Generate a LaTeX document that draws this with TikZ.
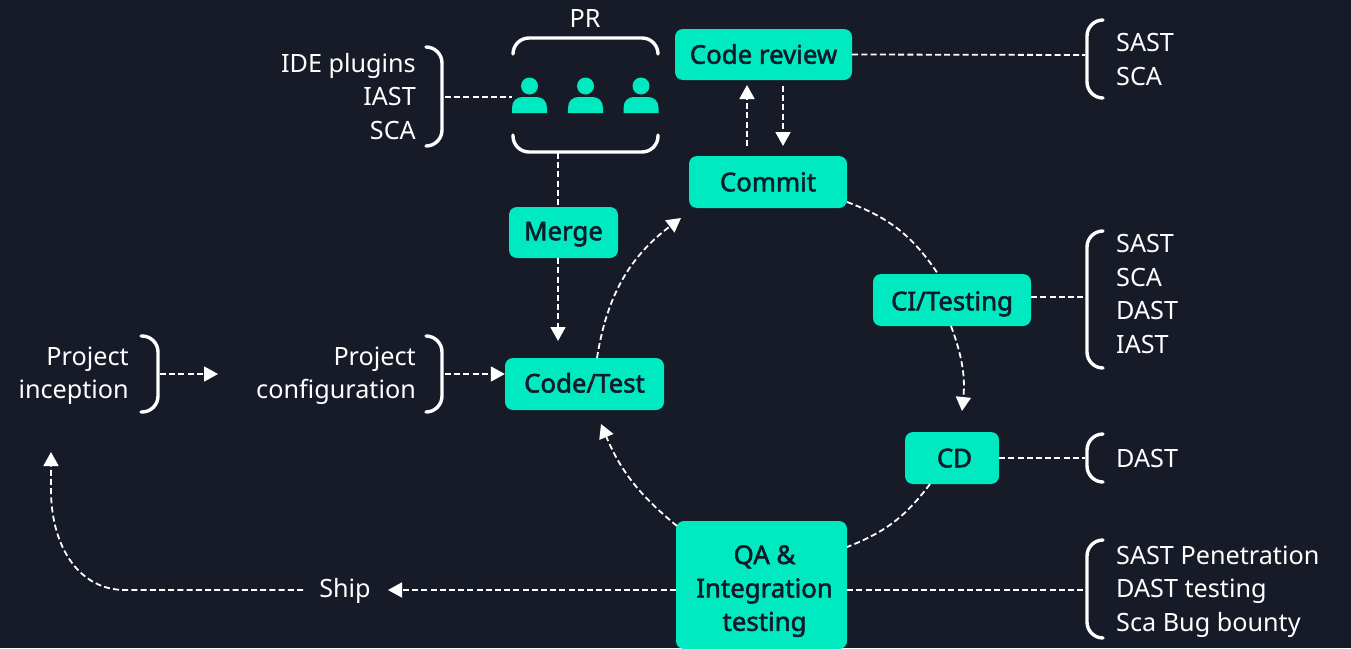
\documentclass[tikz,border=0pt]{standalone}
\usepackage{fontspec}
\setmainfont{Noto Sans}
\newfontfamily\boxfont[FakeBold=2]{Noto Sans}
\usetikzlibrary{arrows.meta,calc}
\definecolor{bgc}{HTML}{161B27}
\definecolor{teal}{HTML}{00EAC2}
\definecolor{ink}{HTML}{0E1B2A}
\tikzset{
  box/.style={fill=teal,rounded corners=8pt,inner sep=0pt,align=center,text=ink,
    font=\boxfont\fontsize{25.8}{33.4}\selectfont},
  oneline/.style={text height=18.5pt,text depth=0pt},
  lab/.style={text=white,inner sep=0pt,font=\fontsize{25.2}{33.4}\selectfont},
  labl/.style={lab,anchor=west,align=left},
  labr/.style={lab,anchor=east,align=right},
  brk/.style={draw=white,line width=3.4pt,line cap=round,rounded corners=16pt},
  dline/.style={draw=white,line width=1.8pt,dash pattern=on 6pt off 3.2pt},
  darrow/.style={dline,-{Triangle[length=14pt,width=15pt,fill=white]}},
}
\begin{document}
\begin{tikzpicture}[x=1pt,y=-1pt]
\useasboundingbox[fill=bgc] (0,0) rectangle (1351,648);
% boxes
\node[box,oneline,minimum width=177pt,minimum height=51pt] (review) at (763.5,54.5) {Code review};
\node[box,oneline,minimum width=158pt,minimum height=52pt] (commit) at (768,182) {Commit};
\node[box,oneline,text height=15.5pt,minimum width=109pt,minimum height=51pt] (merge) at (563.5,232.5) {Merge};
\node[box,oneline,text height=17pt,minimum width=159pt,minimum height=52pt] (code) at (584.5,384) {Code/Test};
\node[box,oneline,text height=20.5pt,minimum width=158pt,minimum height=52pt] (ci) at (952,300) {CI/Testing};
\node[box,oneline,minimum width=94pt,minimum height=52pt] (cd) at (952,458) {\hspace*{5pt}CD};
\node[box,minimum width=171pt,minimum height=128pt] (qa) at (761.5,585) {\rule{0pt}{31pt}\hspace*{6pt}QA \&\\\hspace*{6pt}Integration\\\hspace*{6pt}testing};
% labels
\node[lab] (pr) at (585,19) {PR};
\node[labr] (ide) at (416,96.5) {IDE plugins\\IAST\\SCA};
\node[labr] (cfg) at (416,375.5) {Project\\configuration};
\node[labr] (inc) at (129,375.5) {Project\\inception};
\node[lab] (ship) at (345,591) {Ship};
\node[labl] (t1) at (1116,59.5) {SAST\\SCA};
\node[labl] (t2) at (1116,294) {SAST\\SCA\\DAST\\IAST};
\node[labl] (t3) at (1116,458) {DAST};
\node[labl] (t4) at (1116,591.5) {SAST Penetration\\DAST testing\\Sca Bug bounty};
% brackets
\draw[brk] (426,47) -- (442,47) -- (442,146) -- (426,146);
\draw[brk] (141,336) -- (158,336) -- (158,412) -- (141,412);
\draw[brk] (426,336) -- (442,336) -- (442,412) -- (426,412);
\draw[brk] (513,54) -- (513,38) -- (658,38) -- (658,54);
\draw[brk] (513,135) -- (513,152) -- (658,152) -- (658,135);
\draw[brk] (1103,20) -- (1087,20) -- (1087,98) -- (1103,98);
\draw[brk] (1103,231) -- (1087,231) -- (1087,368) -- (1103,368);
\draw[brk] (1103,434) -- (1087,434) -- (1087,482) -- (1103,482);
\draw[brk] (1103,540) -- (1087,540) -- (1087,638) -- (1103,638);
% people
\foreach \px in {529.5,585.5,641}{
  \fill[teal] (\px,86) circle (8.5pt);
  \fill[teal] (\px-17.5,113) -- (\px-17.5,108) .. controls (\px-17.5,101) and (\px-13,97) .. (\px-7,97)
    -- (\px+7,97) .. controls (\px+13,97) and (\px+17.5,101) .. (\px+17.5,108) -- (\px+17.5,113) -- cycle;
}
% free ends
\coordinate (bR) at (1085,55);
\coordinate (bI) at (445,97);
\coordinate (pI) at (512,97);
\coordinate (bC) at (1085,297);
\coordinate (bD) at (1085,458);
\coordinate (bQ) at (1085,590);
\coordinate (prb) at (558,153);
\coordinate (mt) at (558,341);
\coordinate (up1) at (747,146);
\coordinate (up2) at (747,85);
\coordinate (dn1) at (783,86);
\coordinate (dn2) at (783,146);
\coordinate (a1) at (847,202);
\coordinate (a2) at (938,274);
\coordinate (a3) at (951,326);
\coordinate (a4) at (962,411);
\coordinate (a5) at (930,484);
\coordinate (a6) at (847,547);
\coordinate (a7) at (677,526);
\coordinate (a8) at (601,424);
\coordinate (a9) at (597,358);
\coordinate (a10) at (681,218);
\coordinate (incEnd) at (51,452);
\coordinate (b1) at (160,374);
\coordinate (b2) at (218,374);
\coordinate (b3) at (445,374);
\coordinate (shipL) at (303,590);
\coordinate (shipR) at (388,590);
\coordinate (c1) at (125,590);
\coordinate (c2) at (51,490);
% connectors
\draw[dline] (review.east) -- (bR);
\draw[dline] (bI) -- (pI);
\draw[dline] (ci.east |- bC) -- (bC);
\draw[dline] (cd.east) -- (bD);
\draw[dline] (qa.east |- bQ) -- (bQ);
\draw[dline] (prb) -- (prb |- merge.north);
\draw[darrow] (prb |- merge.south) -- (mt);
\draw[darrow] (up1) -- (up2);
\draw[darrow] (dn1) -- (dn2);
\draw[dline] (a1) to[bend left=18] (a2);
\draw[darrow] (a3) to[bend left=13] (a4);
\draw[dline] (a5) to[bend left=16] (a6);
\draw[darrow] (a7) to[bend left=14] (a8);
\draw[darrow] (a9) to[bend left=22] (a10);
\draw[darrow] (b1) -- (b2);
\draw[darrow] (b3) -- (code.west |- b3);
\draw[darrow] (qa.west |- shipR) -- (shipR);
\draw[darrow] (shipL) -- (c1) .. controls (78,590) and (51,545) .. (c2) -- (incEnd);
\end{tikzpicture}
\end{document}
